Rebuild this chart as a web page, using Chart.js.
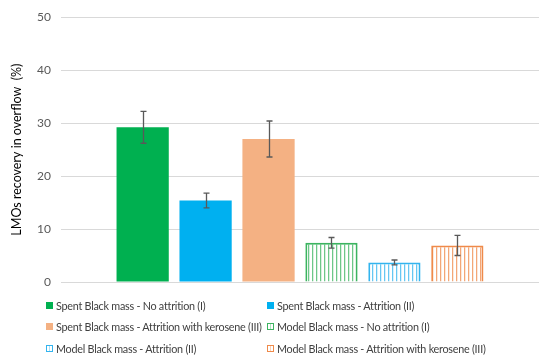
<!DOCTYPE html>
<html>
<head>
<meta charset="utf-8">
<script src="https://cdn.jsdelivr.net/npm/chart.js@4"></script>
<style>
  html, body { margin: 0; padding: 0; background: #fff; }
  #wrap { position: relative; width: 550px; height: 357px; }
  #legend {
    position: absolute; left: 46px; top: 297px; width: 500px;
    display: grid; grid-template-columns: 221px 270px; row-gap: 5.5px;
    font-family: Lato, sans-serif; font-size: 10.8px; letter-spacing: -0.25px; color: #404040;
  }
  #legend .item { display: flex; align-items: center; height: 16px; white-space: nowrap; }
  #legend .box { flex: 0 0 auto; width: 7px; height: 7px; margin-right: 3px; box-sizing: border-box; }
</style>
</head>
<body>
<div id="wrap">
  <canvas id="chart" width="550" height="357"></canvas>
  <div id="legend"></div>
</div>
<script>
// series shown in the legend, one bar each
const seriesNames = [
    'Spent Black mass - No attrition (I)',
    'Spent Black mass - Attrition (II)',
    'Spent Black mass - Attrition with kerosene (III)',
    'Model Black mass - No attrition (I)',
    'Model Black mass - Attrition (II)',
    'Model Black mass - Attrition with kerosene (III)'
];
const recovery = [29.2, 15.4, 27.0, 7.4, 3.7, 6.9];
const errorBars = [3.0, 1.4, 3.4, 1.0, 0.45, 1.9];
const hatched = [false, false, false, true, true, true];
const colors = ['#00b050', '#00b0f0', '#f4b183', '#3cb460', '#33b4ee', '#ef8a4a'];
const yMax = 50;
const yStep = 10;

// vertical stripe fill for the "Model" bars
function stripes(color) {
    const c = document.createElement('canvas');
    c.width = 4; c.height = 4;
    const g = c.getContext('2d');
    g.fillStyle = '#fff';
    g.fillRect(0, 0, 4, 4);
    g.globalAlpha = 0.75;
    g.fillStyle = color;
    g.fillRect(0, 0, 1, 4);
    g.globalAlpha = 0.2;
    g.fillRect(1, 0, 1, 4);
    return g.createPattern(c, 'repeat');
}

const errorBarPlugin = {
    id: 'errorBars',
    afterDatasetsDraw(chart) {
        const ctx = chart.ctx;
        const y = chart.scales.y;
        ctx.save();
        ctx.strokeStyle = '#595959';
        ctx.lineWidth = 1.3;
        chart.data.datasets.forEach((ds, i) => {
            const bar = chart.getDatasetMeta(i).data[0];
            const x = Math.round(bar.x) + 0.5;
            const top = y.getPixelForValue(recovery[i] + errorBars[i]);
            const bot = y.getPixelForValue(recovery[i] - errorBars[i]);
            ctx.beginPath();
            ctx.moveTo(x, top); ctx.lineTo(x, bot);
            ctx.moveTo(x - 3, top); ctx.lineTo(x + 3, top);
            ctx.moveTo(x - 3, bot); ctx.lineTo(x + 3, bot);
            ctx.stroke();
        });
        ctx.restore();
    }
};

const datasets = seriesNames.map((name, i) => ({
    label: name,
    data: [recovery[i]],
    backgroundColor: hatched[i] ? stripes(colors[i]) : colors[i],
    borderColor: colors[i],
    borderWidth: hatched[i] ? 2 : 0,
    categoryPercentage: 0.79,
    barPercentage: 0.83
}));

new Chart(document.getElementById('chart'), {
    type: 'bar',
    data: { labels: [''], datasets },
    options: {
        responsive: false,
        animation: false,
        events: [],
        layout: { padding: { top: 8, right: 11, bottom: 67, left: 9 } },
        plugins: { legend: { display: false }, tooltip: { enabled: false } },
        scales: {
            x: {
                ticks: { display: false },
                grid: { display: false },
                border: { display: false }
            },
            y: {
                min: 0, max: yMax,
                ticks: { stepSize: yStep, color: '#595959', font: { family: 'Lato', size: 12 }, padding: 10 },
                grid: { color: '#d9d9d9', lineWidth: 1, drawTicks: false },
                border: { display: false },
                title: {
                    display: true,
                    text: 'LMOs recovery in overflow  (%)',
                    color: '#000',
                    font: { family: 'Lato', size: 12.5 },
                    padding: { top: 0, bottom: 4 }
                },
                afterFit(scale) { scale.width = 52; }
            }
        }
    },
    plugins: [errorBarPlugin]
});

// two-column legend
const legend = document.getElementById('legend');
seriesNames.forEach((name, i) => {
    const item = document.createElement('div');
    item.className = 'item';
    const box = document.createElement('span');
    box.className = 'box';
    if (hatched[i]) {
        box.style.border = '1.5px solid ' + colors[i];
        box.style.background = 'linear-gradient(90deg, #fff 0 40%, ' + colors[i] + '66 40% 60%, #fff 60%)';
    } else {
        box.style.background = colors[i];
    }
    item.appendChild(box);
    item.appendChild(document.createTextNode(name));
    legend.appendChild(item);
});
</script>
</body>
</html>
